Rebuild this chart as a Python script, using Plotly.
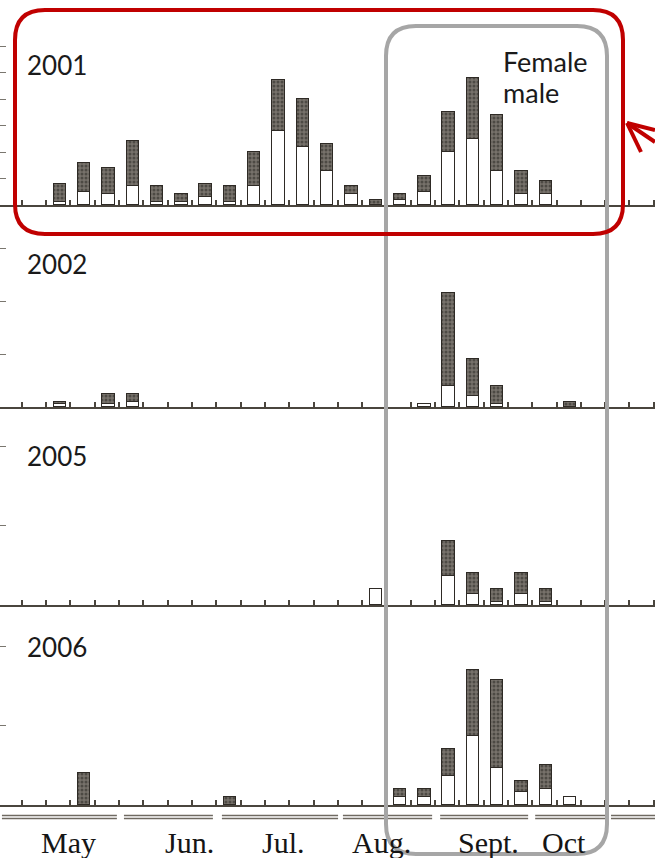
import plotly.graph_objects as go

W, H = 655, 858

# ---------------- data (weekly counts, weeks indexed from early May) ----------------
weeks = list(range(25))
years = ["2001", "2002", "2005", "2006"]

female_2001 = [0, 7, 11, 10, 17, 6, 3, 5, 6, 13, 19, 18, 10, 3, 2, 2, 6, 15, 23, 21, 9, 5, 0, 0, 0]
male_2001   = [0, 1, 5, 4, 7, 1, 1, 3, 1, 7, 28, 22, 13, 4, 0, 2, 5, 20, 25, 13, 4, 4, 0, 0, 0]

female_2002 = [0, 1, 0, 4, 3, 0, 0, 0, 0, 0, 0, 0, 0, 0, 0, 0, 0, 35, 14, 7, 0, 0, 2, 0, 0]
male_2002   = [0, 1, 0, 1, 2, 0, 0, 0, 0, 0, 0, 0, 0, 0, 0, 0, 1, 8, 4, 1, 0, 0, 0, 0, 0]

female_2005 = [0, 0, 0, 0, 0, 0, 0, 0, 0, 0, 0, 0, 0, 0, 0, 0, 0, 13, 8, 5, 8, 5, 0, 0, 0]
male_2005   = [0, 0, 0, 0, 0, 0, 0, 0, 0, 0, 0, 0, 0, 0, 6, 0, 0, 11, 4, 1, 4, 1, 0, 0, 0]

female_2006 = [0, 0, 12, 0, 0, 0, 0, 0, 3, 0, 0, 0, 0, 0, 0, 3, 3, 10, 25, 33, 4, 9, 0, 0, 0]
male_2006   = [0, 0, 0, 0, 0, 0, 0, 0, 0, 0, 0, 0, 0, 0, 0, 3, 3, 11, 26, 14, 5, 6, 3, 0, 0]

female = [female_2001, female_2002, female_2005, female_2006]
male = [male_2001, male_2002, male_2005, male_2006]

ytick_step = [10, 20, 30, 30]

month_labels = ["May", "Jun.", "Jul.", "Aug.", "Sept.", "Oct"]
month_label_pos = [1.34, 6.32, 10.19, 14.22, 18.62, 21.75]
month_segments = [(-1.38, 3.35), (3.64, 7.30), (7.67, 12.45), (12.65, 16.32),
                  (16.65, 20.27), (20.56, 23.44), (23.68, 25.49)]

# ---------------- layout constants ----------------
baselines = [205, 407, 605, 805]      # px
panel_h = 165                          # px
px_per_unit = 2.65
x_range = [-1.46, 25.49]
year_label_y = [65, 264, 456, 647]

INK = "#2e2a25"
AXIS = "#4a453d"


def px(x):
    return x / W


def py(y):
    return 1 - y / H


def nz(vals):
    return [v if v else None for v in vals]


fig = go.Figure()

for i in range(4):
    xa = "x" if i == 0 else f"x{i+1}"
    ya = "y" if i == 0 else f"y{i+1}"
    fig.add_trace(go.Bar(
        x=weeks, y=nz(male[i]), xaxis=xa, yaxis=ya, name="male",
        width=0.51, marker=dict(color="white", line=dict(color=INK, width=1.5)),
        showlegend=False, hoverinfo="skip"))
    fig.add_trace(go.Bar(
        x=weeks, y=nz(female[i]), xaxis=xa, yaxis=ya, name="Female",
        width=0.51,
        marker=dict(color="#6e6a63", line=dict(color=INK, width=1.5),
                    pattern=dict(shape=".", fgcolor="#24211d", bgcolor="#77726b",
                                 size=4, solidity=0.45, fillmode="overlay")),
        showlegend=False, hoverinfo="skip"))

layout = dict(
    width=W, height=H, margin=dict(l=0, r=0, t=0, b=0),
    paper_bgcolor="white", plot_bgcolor="white",
    barmode="stack", bargap=0, showlegend=False,
)

yr_units = panel_h / px_per_unit
for i in range(4):
    sfx = "" if i == 0 else str(i + 1)
    b = baselines[i]
    layout["xaxis" + sfx] = dict(
        domain=[0, 1], range=x_range, anchor="y" + sfx,
        showgrid=False, zeroline=False, showline=True, linecolor=AXIS, linewidth=2,
        ticks="inside", ticklen=5, tickwidth=1.5, tickcolor=AXIS,
        tickvals=[k + 0.44 for k in range(-2, 26)], showticklabels=False,
    )
    layout["yaxis" + sfx] = dict(
        domain=[py(b), py(b - panel_h)], range=[0, yr_units], anchor="x" + sfx,
        showgrid=False, zeroline=False, showline=False,
        ticks="inside", ticklen=6, tickwidth=1, tickcolor="#7a766f",
        tickvals=[v for v in range(ytick_step[i], int(yr_units) + 1, ytick_step[i])],
        showticklabels=False,
    )

fig.update_layout(**layout)

annotations = []
for i, yr in enumerate(years):
    annotations.append(dict(
        text=yr, xref="paper", yref="paper", x=px(25), y=py(year_label_y[i]),
        xanchor="left", yanchor="middle", showarrow=False,
        font=dict(family="Lato", size=26, color="#1a1a1a")))

annotations.append(dict(text="Female", xref="paper", yref="paper", x=px(501), y=py(62),
                        xanchor="left", yanchor="middle", showarrow=False,
                        font=dict(family="Lato", size=27, color="#1a1a1a")))
annotations.append(dict(text="male", xref="paper", yref="paper", x=px(501), y=py(92),
                        xanchor="left", yanchor="middle", showarrow=False,
                        font=dict(family="Lato", size=27, color="#1a1a1a")))

for lab, pos in zip(month_labels, month_label_pos):
    annotations.append(dict(text=lab, xref="x4", yref="paper", x=pos, y=py(842),
                            xanchor="center", yanchor="middle", showarrow=False,
                            font=dict(family="Liberation Serif", size=30, color="#151515")))

fig.update_layout(annotations=annotations)

shapes = []
for s, e in month_segments:
    for yy in (815.5, 818.5):
        shapes.append(dict(type="line", xref="x4", yref="paper", x0=s, x1=e,
                           y0=py(yy), y1=py(yy), line=dict(color="#6f6a62", width=1.3)))


def rounded_rect(x0, y0, x1, y1, r):
    p = [
        f"M {px(x0 + r)},{py(y0)}",
        f"L {px(x1 - r)},{py(y0)}",
        f"Q {px(x1)},{py(y0)} {px(x1)},{py(y0 + r)}",
        f"L {px(x1)},{py(y1 - r)}",
        f"Q {px(x1)},{py(y1)} {px(x1 - r)},{py(y1)}",
        f"L {px(x0 + r)},{py(y1)}",
        f"Q {px(x0)},{py(y1)} {px(x0)},{py(y1 - r)}",
        f"L {px(x0)},{py(y0 + r)}",
        f"Q {px(x0)},{py(y0)} {px(x0 + r)},{py(y0)}",
        "Z",
    ]
    return " ".join(p)


shapes.append(dict(type="path", xref="paper", yref="paper",
                   path=rounded_rect(386, 26, 607, 854, 30),
                   line=dict(color="#a6a6a6", width=4), layer="above"))
shapes.append(dict(type="path", xref="paper", yref="paper",
                   path=rounded_rect(15, 10, 623, 234, 30),
                   line=dict(color="#c00000", width=4), layer="above"))
# arrow
for (xa0, ya0) in [(655, 130), (641, 152), (655, 142)]:
    shapes.append(dict(type="line", xref="paper", yref="paper",
                       x0=px(627), y0=py(123), x1=px(xa0), y1=py(ya0),
                       line=dict(color="#c00000", width=4), layer="above"))

fig.update_layout(shapes=shapes)

fig.write_html("out.html")
